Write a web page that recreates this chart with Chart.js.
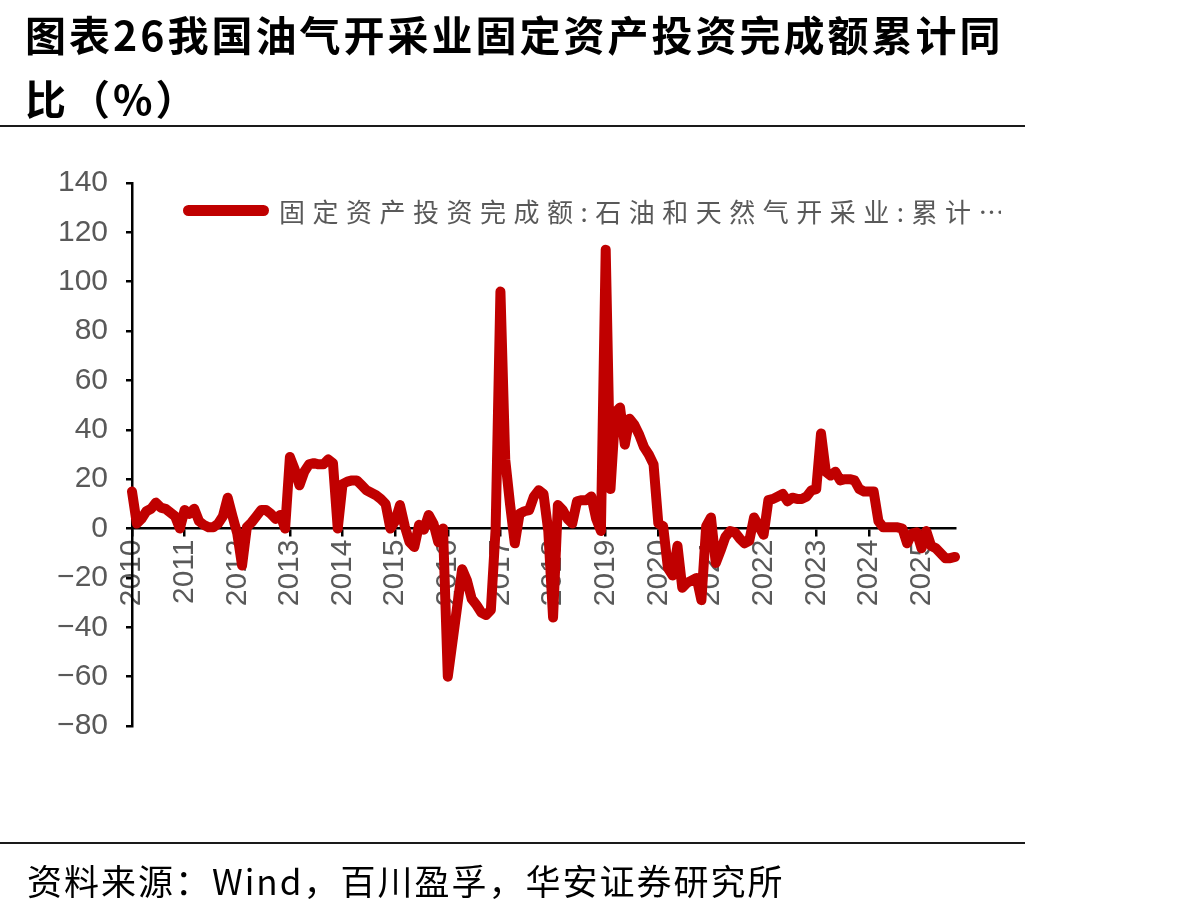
<!DOCTYPE html>
<html>
<head>
<meta charset="utf-8">
<script src="https://cdn.jsdelivr.net/npm/chart.js@4.4.1/dist/chart.umd.min.js"></script>
<style>
html,body{margin:0;padding:0;background:#fff;width:1191px;height:910px;overflow:hidden;}
#wrap{position:relative;width:1191px;height:910px;}
canvas{position:absolute;left:0;top:0;}
.title{position:absolute;left:25px;top:1px;font-family:"Noto Sans CJK SC";font-weight:bold;font-size:41px;line-height:64px;letter-spacing:3px;color:#000;white-space:nowrap;}
.rule{position:absolute;left:0;width:1025px;height:2px;background:#1a1a1a;}
.legend-line{position:absolute;left:183px;top:205px;width:86px;height:11px;border-radius:6px;background:#C00000;}
.legend-text{position:absolute;left:279px;top:194px;width:722px;overflow:hidden;white-space:nowrap;font-family:"Noto Sans CJK SC";font-size:26px;letter-spacing:7.5px;color:#595959;line-height:34px;}
.footer{position:absolute;left:27px;top:857px;font-family:"Noto Sans CJK SC";font-size:35px;line-height:46px;letter-spacing:2px;color:#000;white-space:nowrap;}
</style>
</head>
<body>
<div id="wrap">
  <canvas id="c" width="1191" height="910"></canvas>
  <div class="title">图表26我国油气开采业固定资产投资完成额累计同<br>比（%）</div>
  <div class="rule" style="top:125px"></div>
  <div class="legend-line"></div>
  <div class="legend-text">固定资产投资完成额:石油和天然气开采业:累计⋯</div>
  <div class="rule" style="top:842px"></div>
  <div class="footer">资料来源：Wind，百川盈孚，华安证券研究所</div>
</div>
<script>
// ---- data (cumulative YoY %, monthly Feb–Dec each year) ----
const yearLabels = ['2010','2011','2012','2013','2014','2015','2016','2017','2018','2019','2020','2021','2022','2023','2024','2025'];
const monthLabels = ['02','03','04','05','06','07','08','09','10','11','12'];
const seriesName = '固定资产投资完成额:石油和天然气开采业:累计同比';

const v2010 = [15, 2, 4, 7, 8, 10.5, 8.5, 8, 6.5, 5, 0];
const v2011 = [7.5, 6, 8, 3, 1.5, 0.5, 0.5, 2, 5, 12.5, 5];
const v2012 = [-2, -15, 0.5, 2.5, 5, 7.5, 7.5, 6, 4, 5.5, 0];
const v2013 = [29, 24, 17.5, 23, 26, 26.5, 26, 26, 28, 26.5, 0];
const v2014 = [18, 19, 19.5, 19.5, 17.5, 15.5, 14.5, 13.5, 12, 10, 0];
const v2015 = [3, 9.5, 1, -5.5, -7.5, 1.5, -0.5, 5.5, 2, -5.5, 0];
const v2016 = [-60, -45.5, -31, -16.5, -21, -28.5, -31, -34, -35, -33, 0];
const v2017 = [96, 28, 10, -6, 6, 7, 7.5, 13, 15.5, 14, -1];
const v2018 = [-36, 9.5, 7.5, 4, 2, 11, 11.5, 11.5, 13, 4, -1];
const v2019 = [113, 16, 47, 49, 34, 44.5, 42, 38, 33, 30, 26];
const v2020 = [2, 1, -16, -19, -7, -24, -22, -21, -20, -29, 1];
const v2021 = [4.5, -14, -9, -3.5, -1, -1.5, -4, -6, -5, 4.5, 1];
const v2022 = [-2.5, 11.5, 12, 13, 14, 11, 12.5, 12, 12, 13, 15.5];
const v2023 = [16, 38.5, 23, 21.5, 23, 19.5, 20, 20, 19.5, 16, 15];
const v2024 = [15, 15, 3, 0.5, 0.5, 0.5, 0.5, 0, -6, -2, -1.5];
const v2025 = [-8, -1, -7, -8, -10, -12, -12, -11.5];

const yearValues = [v2010,v2011,v2012,v2013,v2014,v2015,v2016,v2017,v2018,v2019,v2020,v2021,v2022,v2023,v2024,v2025];

// build table for the library
const categories = [];
const values = [];
yearValues.forEach((arr, yi) => {
  arr.forEach((v, mi) => {
    categories.push(yearLabels[yi] + '-' + monthLabels[mi]);
    values.push(v);
  });
});
const isYearStart = i => categories[i] !== undefined && categories[i].endsWith('-02');

const tickFont = {family: 'Liberation Sans', size: 30};
const tickColor = '#595959';

new Chart(document.getElementById('c'), {
  type: 'line',
  data: {
    labels: categories,
    datasets: [{
      label: seriesName,
      data: values,
      borderColor: '#C00000',
      backgroundColor: '#C00000',
      borderWidth: 10,
      pointRadius: 0,
      tension: 0,
      borderJoinStyle: 'round',
      borderCapStyle: 'round',
      fill: false
    }]
  },
  options: {
    responsive: false,
    animation: false,
    devicePixelRatio: 1,
    layout: {padding: {left: 0, top: 183, right: 236, bottom: 184}},
    plugins: {legend: {display: false}, tooltip: {enabled: false}, title: {display: false}},
    scales: {
      x: {
        type: 'category',
        position: {y: 0},
        offset: false,
        grid: {
          drawOnChartArea: false,
          drawTicks: true,
          tickLength: 7,
          lineWidth: 2.5,
          color: c => isYearStart(c.index) ? '#000' : 'rgba(0,0,0,0)'
        },
        border: {display: true, color: '#000', width: 2.5},
        ticks: {
          autoSkip: false,
          maxRotation: 90,
          minRotation: 90,
          padding: 4,
          color: tickColor,
          font: tickFont,
          callback: (v, i) => isYearStart(i) ? categories[i].slice(0, 4) : ''
        }
      },
      y: {
        min: -80,
        max: 140,
        afterFit: s => { s.width = 132; },
        grid: {drawOnChartArea: false, drawTicks: true, tickLength: 6, lineWidth: 2.5, color: '#000'},
        border: {display: true, color: '#000', width: 2.5},
        ticks: {
          stepSize: 20,
          padding: 18,
          color: tickColor,
          font: tickFont,
          callback: v => v < 0 ? '\u2212' + Math.abs(v) : String(v)
        }
      }
    }
  }
});
</script>
</body>
</html>
